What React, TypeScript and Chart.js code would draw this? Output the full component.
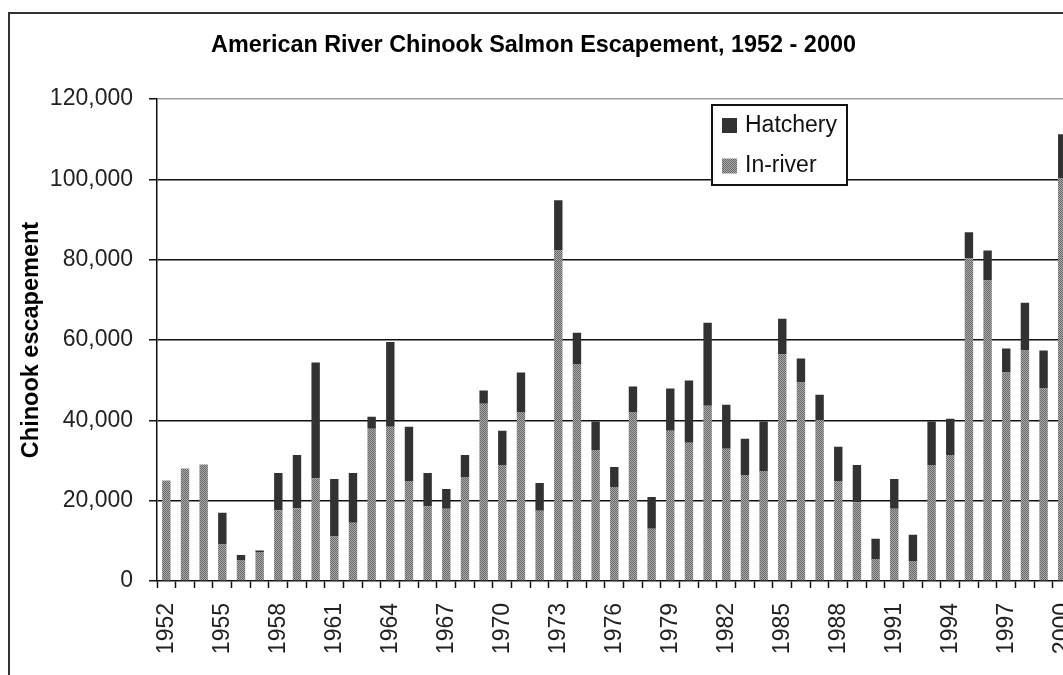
import React, { useEffect, useRef } from "react";
import { Chart, registerables } from "chart.js";

Chart.register(...registerables);

const FONT = "'Liberation Sans', Arial, sans-serif";

const years = [
  "1952", "1953", "1954", "1955", "1956", "1957", "1958", "1959", "1960", "1961",
  "1962", "1963", "1964", "1965", "1966", "1967", "1968", "1969", "1970", "1971",
  "1972", "1973", "1974", "1975", "1976", "1977", "1978", "1979", "1980", "1981",
  "1982", "1983", "1984", "1985", "1986", "1987", "1988", "1989", "1990", "1991",
  "1992", "1993", "1994", "1995", "1996", "1997", "1998", "1999", "2000",
];

const inRiver = [
  25000, 28000, 29000, 9100, 5200, 7200, 17600, 18100, 25600, 11100,
  14500, 37900, 38400, 24900, 18600, 18000, 25900, 44100, 28900, 42100,
  17500, 82300, 54000, 32600, 23400, 42100, 13000, 37400, 34400, 43600,
  32900, 26400, 27400, 56400, 49400, 40100, 24900, 19600, 5500, 18000,
  5000, 28900, 31400, 80300, 74800, 51900, 57400, 47900, 100200,
];

const hatchery = [
  0, 0, 0, 7900, 1300, 400, 9300, 13300, 28800, 14300,
  12400, 3000, 21100, 13500, 8300, 4900, 5500, 3300, 8500, 9800,
  6900, 12500, 7800, 7100, 5000, 6300, 7900, 10500, 15500, 20700,
  11000, 9000, 12300, 8900, 6000, 6300, 8500, 9300, 5000, 7400,
  6500, 10800, 9000, 6500, 7500, 6000, 11900, 9500, 11000,
];

const yMin = 0;
const yMax = 120000;
const yStep = 20000;
const labelEvery = 3;

const title = "American River Chinook Salmon Escapement, 1952 - 2000";
const yTitle = "Chinook escapement";

function makeDither(): CanvasPattern | string {
  const c = document.createElement("canvas");
  c.width = 2;
  c.height = 2;
  const g = c.getContext("2d");
  if (!g) return "#8a8a8a";
  g.fillStyle = "#acacac";
  g.fillRect(0, 0, 2, 2);
  g.fillStyle = "#666666";
  g.fillRect(0, 0, 1, 1);
  g.fillRect(1, 1, 1, 1);
  return g.createPattern(c, "repeat") || "#8a8a8a";
}

const framePlugin = {
  id: "frame",
  beforeDraw(chart: any) {
    const { ctx } = chart;
    ctx.save();
    ctx.fillStyle = "#fff";
    ctx.fillRect(0, 0, chart.width, chart.height);
    ctx.strokeStyle = "#333";
    ctx.lineWidth = 2;
    ctx.strokeRect(9, 13, 3000, 3000);
    ctx.fillStyle = "#000";
    ctx.font = `bold 23.4px ${FONT}`;
    ctx.textAlign = "center";
    ctx.textBaseline = "middle";
    ctx.fillText(title, 533.5, 46);
    ctx.restore();
  },
};

const legendPlugin = {
  id: "boxLegend",
  afterDraw(chart: any) {
    const { ctx } = chart;
    const x = 712;
    const y = 105;
    const w = 135;
    const h = 80;
    ctx.save();
    ctx.fillStyle = "#fff";
    ctx.fillRect(x, y, w, h);
    ctx.strokeStyle = "#111";
    ctx.lineWidth = 2;
    ctx.strokeRect(x, y, w, h);
    const items = chart.data.datasets.slice().reverse();
    items.forEach((ds: any, i: number) => {
      const cy = y + 20.5 + i * 40.5;
      ctx.fillStyle = ds.backgroundColor;
      ctx.fillRect(x + 10, cy - 7.5, 15, 15);
      ctx.fillStyle = "#111";
      ctx.font = `23px ${FONT}`;
      ctx.textBaseline = "middle";
      ctx.textAlign = "left";
      ctx.fillText(ds.label, x + 33, cy);
    });
    ctx.restore();
  },
};

export default function App() {
  const ref = useRef<HTMLCanvasElement | null>(null);

  useEffect(() => {
    if (!ref.current) return;
    const dither = makeDither();
    const chart = new Chart(ref.current, {
      type: "bar",
      data: {
        labels: years,
        datasets: [
          {
            label: "In-river",
            data: inRiver,
            backgroundColor: dither as any,
            borderWidth: 0,
            barPercentage: 0.45,
            categoryPercentage: 1,
          },
          {
            label: "Hatchery",
            data: hatchery,
            backgroundColor: "#323232",
            borderWidth: 0,
            barPercentage: 0.45,
            categoryPercentage: 1,
          },
        ],
      },
      options: {
        animation: false,
        responsive: false,
        maintainAspectRatio: false,
        layout: { padding: { left: 0, right: 15, top: 99, bottom: 0 } },
        plugins: {
          legend: { display: false },
          tooltip: { enabled: false },
          title: { display: false },
        },
        scales: {
          x: {
            stacked: true,
            offset: true,
            grid: {
              offset: true,
              drawOnChartArea: false,
              drawTicks: true,
              tickLength: 7,
              tickColor: "#111",
              tickWidth: 1.5,
            },
            border: { display: true, color: "#111", width: 1.5 },
            ticks: {
              autoSkip: false,
              minRotation: 90,
              maxRotation: 90,
              padding: 15,
              color: "#222",
              font: { family: FONT, size: 23 },
              callback: (_v: any, i: number) => (i % labelEvery === 0 ? years[i] : ""),
            },
            afterFit: (s: any) => {
              s.height = 119;
            },
          },
          y: {
            stacked: true,
            min: yMin,
            max: yMax,
            grid: {
              color: (c: any) => (c.tick && c.tick.value === yMax ? "#a0a0a0" : c.tick && c.tick.value === yMin ? "rgba(0,0,0,0)" : "#111"),
              lineWidth: 1.5,
              drawTicks: true,
              tickLength: 8,
              tickColor: "#111",
              tickWidth: 1.5,
            },
            border: { display: true, color: "#111", width: 1.5 },
            ticks: {
              stepSize: yStep,
              padding: 16,
              color: "#222",
              font: { family: FONT, size: 23 },
              callback: (v: any) => Number(v).toLocaleString("en-US"),
            },
            title: {
              display: true,
              text: yTitle,
              color: "#000",
              font: { family: FONT, size: 23.5, weight: "bold" },
              padding: { top: 17, bottom: 0 },
            },
            afterFit: (s: any) => {
              s.width = 157;
            },
          },
        },
      },
      plugins: [framePlugin, legendPlugin],
    });
    return () => chart.destroy();
  }, []);

  return (
    <div
      style={{
        position: "fixed",
        left: 0,
        top: 0,
        width: 1063,
        height: 675,
        overflow: "hidden",
        background: "#fff",
      }}
    >
      <canvas
        ref={ref}
        width={1105}
        height={700}
        style={{ position: "absolute", left: 0, top: 0, width: 1105, height: 700 }}
      />
    </div>
  );
}
